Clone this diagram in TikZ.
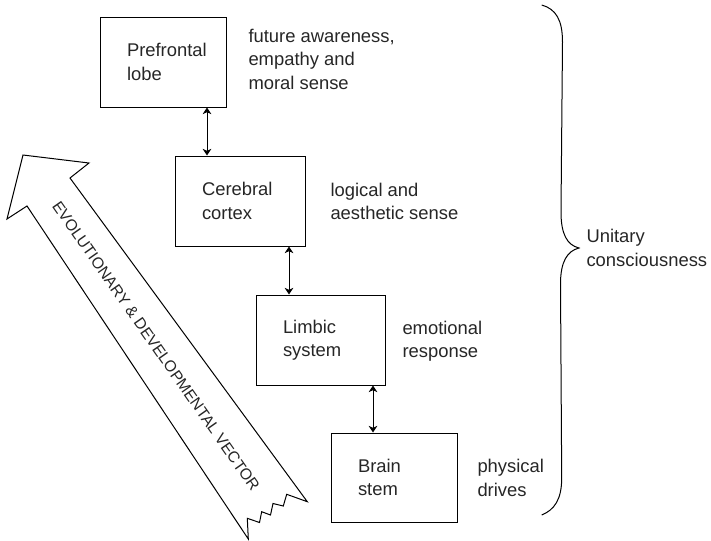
\documentclass[tikz,border=0pt]{standalone}
\usepackage{fontspec}
\setmainfont{Liberation Sans}
\usetikzlibrary{arrows.meta}
\newcommand{\ind}{\hspace*{20.25pt}}
\begin{document}
\begin{tikzpicture}[x=0.75pt,y=-0.75pt,
  line width=0.75pt,
  every node/.style={text=black!85},
  mainfont/.style={font=\fontsize{13.8}{17.6}\selectfont},
  box/.style={draw, mainfont, align=left, inner xsep=0pt, inner ysep=0pt, anchor=center},
  lbl/.style={mainfont, align=left, inner sep=0pt, anchor=west},
  dbl/.style={{Stealth[length=5pt,width=6.5pt,inset=1.5pt]}-{Stealth[length=5pt,width=6.5pt,inset=1.5pt]}},
  bigarrow/.style={draw, line join=miter}
]
\useasboundingbox (0,0) rectangle (711,540);

% boxes
\node[box, text width=94.5pt, minimum height=67.5pt] (P) at (163,62) {\ind Prefrontal\\\ind lobe};
\node[box, text width=97.5pt, minimum height=67.5pt] (C) at (240,201) {\ind Cerebral\\\ind cortex};
\node[box, text width=96.75pt, minimum height=67.5pt] (L) at (320.5,340) {\ind Limbic\\\ind system};
\node[box, text width=94.5pt, minimum height=66.75pt] (B) at (394,477.5) {\ind Brain\\\ind stem};

% connectors
\coordinate (x1) at (207,0);
\coordinate (x2) at (289,0);
\coordinate (x3) at (373,0);
\draw[dbl] (P.south -| x1) -- (C.north -| x1);
\draw[dbl] (C.south -| x2) -- (L.north -| x2);
\draw[dbl] (L.south -| x3) -- (B.north -| x3);

% side labels
\node[lbl] (t1) at (248,59) {future awareness,\\empathy and\\moral sense};
\node[lbl] (t2) at (330,201.5) {logical and\\aesthetic sense};
\node[lbl] (t3) at (402,341.5) {emotional\\response};
\node[lbl] (t4) at (477,478) {physical\\drives};
\node[lbl] (t5) at (586,248) {Unitary\\consciousness};

% brace
\draw (541.7,5) .. controls (556,9) and (562.5,20) .. (562.5,42)
  -- (561,212) .. controls (561,234) and (567,245) .. (579,248)
  .. controls (567,251) and (560.5,262) .. (560.5,284)
  -- (561.7,478) .. controls (561.7,500) and (554,510) .. (541.7,515);

% big evolutionary arrow
\draw[bigarrow] (23,155) -- (89,163) -- (70,178) -- (307.3,501.7)
  -- (286.7,494.3) -- (283.3,506) -- (273,503.5) -- (270.5,515)
  -- (261.7,511.7) -- (259.5,522.5) -- (247.3,518.3) -- (248.3,539)
  -- (27,206) -- (7,219) -- cycle;
\node[font=\fontsize{11.8}{14}\selectfont, rotate=-55, inner sep=0pt] (ev) at (156,346) {EVOLUTIONARY \& DEVELOPMENTAL VECTOR};
\end{tikzpicture}
\end{document}
